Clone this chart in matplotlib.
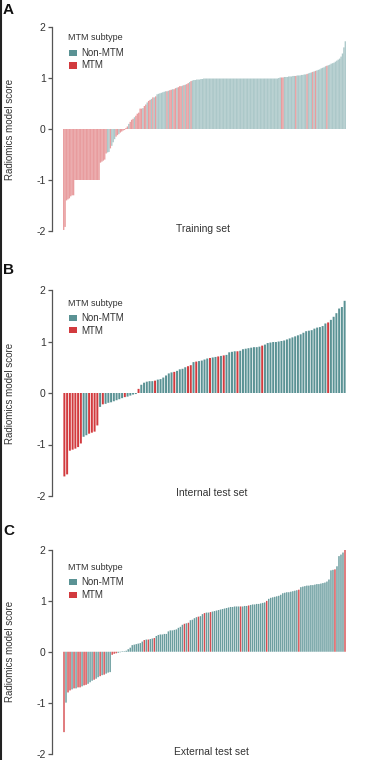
import matplotlib
matplotlib.use("Agg")
import matplotlib.pyplot as plt
from matplotlib.patches import Rectangle
from matplotlib.lines import Line2D

plt.rcParams['font.family'] = ['Liberation Sans', 'DejaVu Sans']

# ---------------- data ----------------
train_scores = [
    -1.98, -1.92, -1.40, -1.38, -1.36, -1.32, -1.30, -1.30,
    -1.00, -1.00, -1.00, -1.00, -1.00, -1.00, -1.00, -1.00, -1.00,
    -1.00, -1.00, -1.00, -1.00, -1.00, -1.00, -1.00, -1.00, -1.00,
    -0.66, -0.64, -0.62, -0.60, -0.48, -0.46, -0.45, -0.38, -0.33,
    -0.26, -0.20, -0.15, -0.12, -0.10, -0.07, -0.05, -0.03, -0.02,
    0.02, 0.05, 0.10, 0.14, 0.18, 0.20, 0.23, 0.26, 0.30, 0.32,
    0.40, 0.40, 0.41, 0.45, 0.48, 0.52, 0.55, 0.57, 0.59, 0.62,
    0.62, 0.64, 0.68, 0.69, 0.70, 0.71, 0.72, 0.73, 0.74, 0.74,
    0.75, 0.76, 0.77, 0.78, 0.78, 0.80, 0.81, 0.82, 0.84, 0.84,
    0.85, 0.86, 0.87, 0.88, 0.90, 0.92, 0.94, 0.95, 0.96, 0.96,
    0.97, 0.97, 0.97, 0.98, 0.98,
    0.99, 0.99, 0.99, 0.99, 0.99, 0.99, 0.99, 0.99, 0.99, 0.99,
    0.99, 0.99, 0.99, 0.99, 0.99, 0.99, 0.99, 0.99, 0.99, 0.99,
    0.99, 0.99, 0.99, 0.99, 0.99, 0.99, 0.99, 0.99, 0.99, 0.99,
    0.99, 0.99, 0.99, 0.99, 0.99, 0.99, 0.99, 0.99, 0.99, 0.99,
    0.99, 0.99, 0.99, 0.99, 0.99, 0.99, 0.99, 0.99, 0.99, 0.99,
    0.99, 0.99, 0.99,
    1.00, 1.01, 1.01, 1.01, 1.02, 1.02, 1.02, 1.03, 1.03, 1.03,
    1.04, 1.04, 1.04, 1.05, 1.05, 1.05, 1.06, 1.06, 1.07, 1.07,
    1.08, 1.09, 1.10, 1.11, 1.12, 1.13, 1.14, 1.15, 1.16, 1.17,
    1.19, 1.20, 1.21, 1.23, 1.24, 1.25, 1.26, 1.28, 1.29, 1.30,
    1.32, 1.34, 1.36, 1.38, 1.42, 1.48, 1.60, 1.72,
]
# N = Non-MTM, M = MTM (one letter per bar, groups of ten)
train_types = list(
    "MMMMMMMMMM" "MMMMMMMMMM" "MMMMMMMMMM" "MNNMNNNMMN" "MMMMMMNMMM"
    "NMMMMMNMMN" "MMNMNMNNNN" "NNNMNMMNMM" "NMMMNMNMMN" "MNNNNNNNNN"
    "NNNNNNNNNN" "NNNNNNNNNN" "NNNNNNNNNN" "NNNNNNNNNN" "NNNNNNNNNN"
    "NNNNMMNNNN" "NNNNMNNNNN" "NNMNNNMNMN" "NNNNNNMNNN" "NNNNNNNNNN"
)

internal_scores = [
    -1.62, -1.58, -1.12, -1.10, -1.08, -1.05, -0.98, -0.85, -0.82, -0.79,
    -0.77, -0.75, -0.63, -0.27, -0.22, -0.21, -0.19, -0.18, -0.16, -0.14,
    -0.12, -0.10, -0.08, -0.07, -0.05, -0.03, -0.02,
    0.08, 0.16, 0.20, 0.22, 0.23, 0.23, 0.24, 0.26, 0.27, 0.30,
    0.34, 0.38, 0.40, 0.41, 0.43, 0.46, 0.47, 0.50, 0.52, 0.54,
    0.60, 0.61, 0.62, 0.63, 0.65, 0.67, 0.68, 0.69, 0.70, 0.71,
    0.72, 0.73, 0.74, 0.79, 0.80, 0.81, 0.81, 0.82, 0.85, 0.86,
    0.87, 0.88, 0.89, 0.89, 0.90, 0.92, 0.94, 0.97, 0.98, 0.99,
    0.99, 1.00, 1.01, 1.02, 1.04, 1.06, 1.08, 1.10, 1.12, 1.14,
    1.17, 1.20, 1.21, 1.22, 1.25, 1.27, 1.28, 1.30, 1.35, 1.37,
    1.42, 1.48, 1.55, 1.64, 1.67, 1.79,
]
internal_types = list(
    "MMMMMMMNNM" "MMMNMNNNNN" "NNMNNNNMNN" "NNNMNNNNNN" "MNNNNMMNMN"
    "NNNMNNMNMN" "NNNMNNNNNN" "NNMNNNNNNN" "NNNNNNNNNN" "NNNNNNMNNN"
    "NNN"
)

external_scores = [
    -1.58, -1.00, -0.80, -0.76, -0.74, -0.72, -0.72, -0.70, -0.70, -0.68,
    -0.66, -0.65, -0.63, -0.60, -0.57, -0.55, -0.53, -0.50, -0.48, -0.46,
    -0.45, -0.43, -0.41, -0.40, -0.06, -0.04, -0.03, -0.02, -0.01,
    0.01, 0.01, 0.02,
    0.05, 0.08, 0.13, 0.14, 0.15, 0.16, 0.17, 0.20, 0.23, 0.24,
    0.24, 0.25, 0.26, 0.27, 0.31, 0.33, 0.34, 0.34, 0.35, 0.35,
    0.40, 0.42, 0.42, 0.43, 0.44, 0.47, 0.49, 0.53, 0.55, 0.56,
    0.57, 0.62, 0.63, 0.66, 0.68, 0.69, 0.70, 0.74, 0.76, 0.77,
    0.77, 0.78, 0.79, 0.80, 0.81, 0.82, 0.83, 0.84, 0.85, 0.86,
    0.87, 0.88, 0.88, 0.89, 0.89, 0.89, 0.89, 0.89, 0.90, 0.90,
    0.91, 0.92, 0.93, 0.93, 0.94, 0.94, 0.95, 0.96, 0.97, 1.00,
    1.04, 1.06, 1.07, 1.08, 1.09, 1.10, 1.12, 1.15, 1.16, 1.17,
    1.17, 1.18, 1.19, 1.20, 1.21, 1.22, 1.27, 1.28, 1.29, 1.30,
    1.30, 1.31, 1.31, 1.32, 1.33, 1.33, 1.34, 1.35, 1.36, 1.38,
    1.42, 1.60, 1.61, 1.62, 1.68, 1.88, 1.91, 1.95, 2.04,
]
external_types = list(
    "MNMMNMNMMN" "MMNNNMNNMN" "MNNNMMMNNN" "NNNNNNNNNN" "MNMNNMNNNN"
    "NNNNNNNNNN" "MNMNNNNMNN" "MNNMNNNNNN" "NNNNNNNNMN" "NNMNNNNNNN"
    "NMNNNNNNNN" "NNNNNNNMNN" "NNNNNNNNNN" "NNNNNMNNNN" "M"
)

panels = [
    ("A", "Training set", train_scores, train_types),
    ("B", "Internal test set", internal_scores, internal_types),
    ("C", "External test set", external_scores, external_types),
]

# ---------------- style / layout ----------------
W, H = 373, 760
TEAL = "#5a9294"
RED = "#d23a3e"
TXT = "#333333"
SPINE = "#555555"

# per-panel pixel geometry: (axis top y, axis bottom y, xlabel y, letter y,
# legend title y, xlabel center x, bar alpha, bar width)
geom = [
    (27.0, 231.0, 229.0, 10.0, 38.0, 203, 0.5, 0.95),
    (290.0, 496.0, 492.5, 270.0, 303.0, 212, 1.0, 0.72),
    (550.0, 753.5, 752.0, 531.0, 567.0, 211, 0.9, 0.72),
]

fig = plt.figure(figsize=(W / 100, H / 100), dpi=100)
fig.patch.set_facecolor("white")

AX_L, AX_R = 52.0, 350.0
BAR_L, BAR_R = 63.0, 346.0

def fx(px):
    return px / W

def fy(py):
    return 1 - py / H

for (letter, xlabel, scores, types), (top, bot, laby, lety, legy, labx, alpha, bw) in zip(panels, geom):
    ax = fig.add_axes([fx(AX_L), fy(bot), fx(AX_R) - fx(AX_L), (bot - top) / H])
    n = len(scores)
    cols = [TEAL if t == "N" else RED for t in types]
    bars = ax.bar(range(n), scores, width=bw, color=cols, alpha=alpha, linewidth=0)
    for b in bars:
        b.set_snap(False)
    s = (BAR_R - BAR_L) / n
    ax.set_xlim(-0.5 - (BAR_L - AX_L) / s, n - 0.5 + (AX_R - BAR_R) / s)
    ax.set_ylim(-2, 2)
    for sp in ["top", "right", "bottom"]:
        ax.spines[sp].set_visible(False)
    ax.spines["left"].set_color(SPINE)
    ax.spines["left"].set_linewidth(0.9)
    ax.spines["left"].set_bounds(-2, 2)
    ax.set_xticks([])
    ax.set_yticks([-2, -1, 0, 1, 2])
    ax.set_yticklabels(["-2", "-1", "0", "1", "2"])
    ax.tick_params(axis="y", length=3, width=0.9, color=SPINE, pad=1.5,
                   labelsize=7.5, labelcolor=TXT)
    ax.set_ylabel("Radiomics model score", fontsize=7, color=TXT)
    ax.yaxis.set_label_coords((15 - AX_L) / (AX_R - AX_L), 0.5)
    ax.patch.set_alpha(0)

    fig.text(fx(labx), fy(laby), xlabel, ha="center", va="center", fontsize=7.5, color=TXT)
    fig.text(fx(3), fy(lety), letter, ha="left", va="center", fontsize=11, fontweight="bold", color="#111111")

    # legend
    fig.text(fx(68), fy(legy), "MTM subtype", ha="left", va="center", fontsize=6.5, color=TXT)
    for k, (lab, c) in enumerate([("Non-MTM", TEAL), ("MTM", RED)]):
        cy = legy + 15 + 12.5 * k
        fig.add_artist(Rectangle((fx(69), fy(cy + 3)), fx(8), 6 / H,
                                 transform=fig.transFigure, facecolor=c, edgecolor="none"))
        fig.text(fx(81), fy(cy), lab, ha="left", va="center", fontsize=7, color=TXT)

# left border line seen in the reference
fig.add_artist(Line2D([fx(0.8), fx(0.8)], [0, 1], transform=fig.transFigure, color="#222222", linewidth=1.5))

fig.savefig("out.png", dpi=100, facecolor="white")
